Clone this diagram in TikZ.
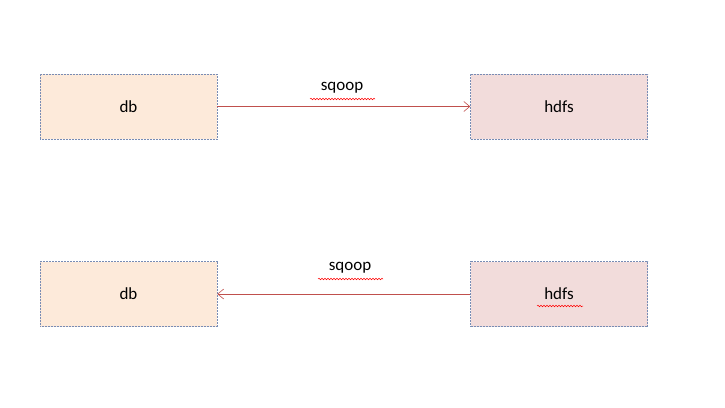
\documentclass[tikz,border=0pt]{standalone}
\usepackage{fontspec}
\setmainfont{Carlito}
\usetikzlibrary{arrows.meta,decorations.pathmorphing}
\definecolor{peach}{RGB}{253,234,218}
\definecolor{rosy}{RGB}{242,220,219}
\definecolor{arrowred}{RGB}{192,80,77}
\definecolor{edge}{RGB}{120,140,180}
\begin{document}
\begin{tikzpicture}[x=1pt,y=-1pt,
  box/.style={draw=edge,densely dotted,line width=0.5pt,minimum width=177pt,minimum height=65pt,inner sep=0pt,font=\fontsize{17}{20}\selectfont},
  conn/.style={draw=arrowred,line width=0.6pt,-{Straight Barb[length=6pt,width=10pt]}},
  lbl/.style={font=\fontsize{17}{20}\selectfont,inner sep=0pt},
  squiggle/.style={draw=red,line width=0.5pt,decorate,decoration={snake,amplitude=0.8pt,segment length=3pt}}]
\useasboundingbox (0,0) rectangle (725,407);
\node[box,fill=peach] (db1) at (128.5,106.5) {db};
\node[box,fill=rosy] (hdfs1) at (559,106.5) {hdfs};
\node[box,fill=peach] (db2) at (128.5,294) {db};
\node[box,fill=rosy] (hdfs2) at (559,294) {hdfs};
\draw[conn] (db1) -- (hdfs1);
\draw[conn] (hdfs2) -- (db2);
\node[lbl] (s1) at (342,88) {sqoop};
\node[lbl] (s2) at (350,268) {sqoop};
\draw[squiggle] (310,99) -- (375,99);
\draw[squiggle] (318,279) -- (383,279);
\draw[squiggle] (537,306) -- (583,306);
\end{tikzpicture}
\end{document}
